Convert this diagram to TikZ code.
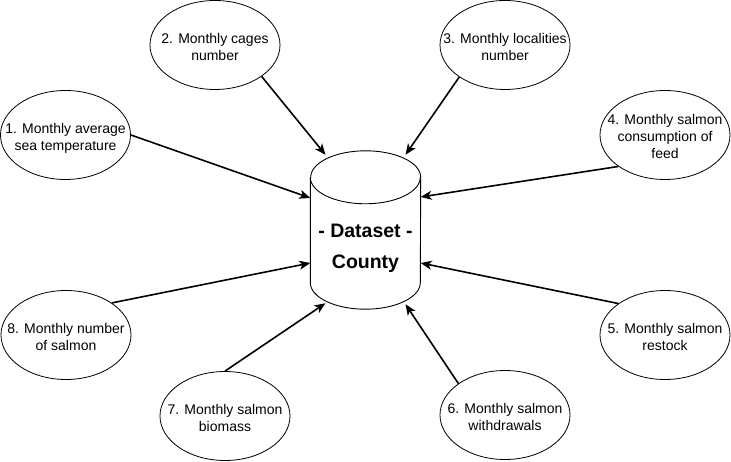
\documentclass[tikz,border=0pt]{standalone}
\usepackage{fontspec}
\setmainfont{Liberation Sans}
\usetikzlibrary{arrows.meta,shapes.geometric}
\newcommand{\topst}[1]{\rule{0pt}{#1}}
\newcommand{\botst}[1]{\rule[-#1]{0pt}{#1}}
\begin{document}
\begin{tikzpicture}[x=1pt,y=1pt,
  bub/.style={draw, line width=0.8pt, ellipse, minimum width=130pt, minimum height=89pt, inner sep=0pt},
  bubtext/.style={align=center, font=\fontsize{14}{17}\selectfont, inner sep=0pt},
  cylbox/.style={rectangle, draw=none, minimum width=110pt, minimum height=158pt, inner sep=0pt,
    align=center, font=\fontsize{19.5}{31}\selectfont\bfseries},
  cylline/.style={draw, line width=0.9pt},
  feed/.style={line width=1.6pt, -{Stealth[length=11pt,width=9pt,inset=3pt]}}
]
\useasboundingbox (0,0) rectangle (731,462);

\node[cylbox] (cyl) at (365.5,232) {\topst{52pt}- Dataset -\\County\botst{5pt}};
\draw[cylline] ([yshift=-26.5pt]cyl.north west) -- ([yshift=26.5pt]cyl.south west)
  arc[start angle=180, end angle=360, x radius=55pt, y radius=26.5pt]
  -- ([yshift=-26.5pt]cyl.north east)
  arc[start angle=0, end angle=180, x radius=55pt, y radius=26.5pt];
\draw[cylline] ([yshift=-26.5pt]cyl.north west)
  arc[start angle=180, end angle=360, x radius=55pt, y radius=26.5pt];

\node[bub, label={[bubtext]center:{\topst{18pt}1. Monthly average\\sea temperature\botst{4pt}}}] (e1) at (65.5,327) {};
\node[bub, label={[bubtext]center:{\topst{18pt}2. Monthly cages\\number\botst{4pt}}}] (e2) at (215,417) {};
\node[bub, label={[bubtext]center:{\topst{18pt}3. Monthly localities\\number\botst{4pt}}}] (e3) at (505,417) {};
\node[bub, label={[bubtext]center:{\topst{18pt}4. Monthly salmon\\consumption of\\feed\botst{4pt}}}] (e4) at (665,327) {};
\node[bub, label={[bubtext]center:{\topst{18pt}5. Monthly salmon\\restock\botst{4pt}}}] (e5) at (665,127) {};
\node[bub, label={[bubtext]center:{\topst{18pt}6. Monthly salmon\\withdrawals\botst{4pt}}}] (e6) at (505,47) {};
\node[bub, label={[bubtext]center:{\topst{18pt}7. Monthly salmon\\biomass\botst{4pt}}}] (e7) at (225,46) {};
\node[bub, label={[bubtext]center:{\topst{18pt}8. Monthly number\\of salmon\botst{4pt}}}] (e8) at (66,127) {};

\draw[feed] (e1.east) -- ([yshift=32pt]cyl.west);
\draw[feed] (e2.-34) -- ([xshift=-40pt,yshift=-4pt]cyl.north);
\draw[feed] (e3.215) -- ([xshift=40pt,yshift=-4pt]cyl.north);
\draw[feed] (e4.214) -- ([yshift=33pt]cyl.east);
\draw[feed] (e5.146) -- ([yshift=-33pt]cyl.east);
\draw[feed] (e6.146) -- ([xshift=40pt,yshift=5pt]cyl.south);
\draw[feed] (e7.north) -- ([xshift=-40pt,yshift=6pt]cyl.south);
\draw[feed] (e8.35) -- ([yshift=-33pt]cyl.west);
\end{tikzpicture}
\end{document}
